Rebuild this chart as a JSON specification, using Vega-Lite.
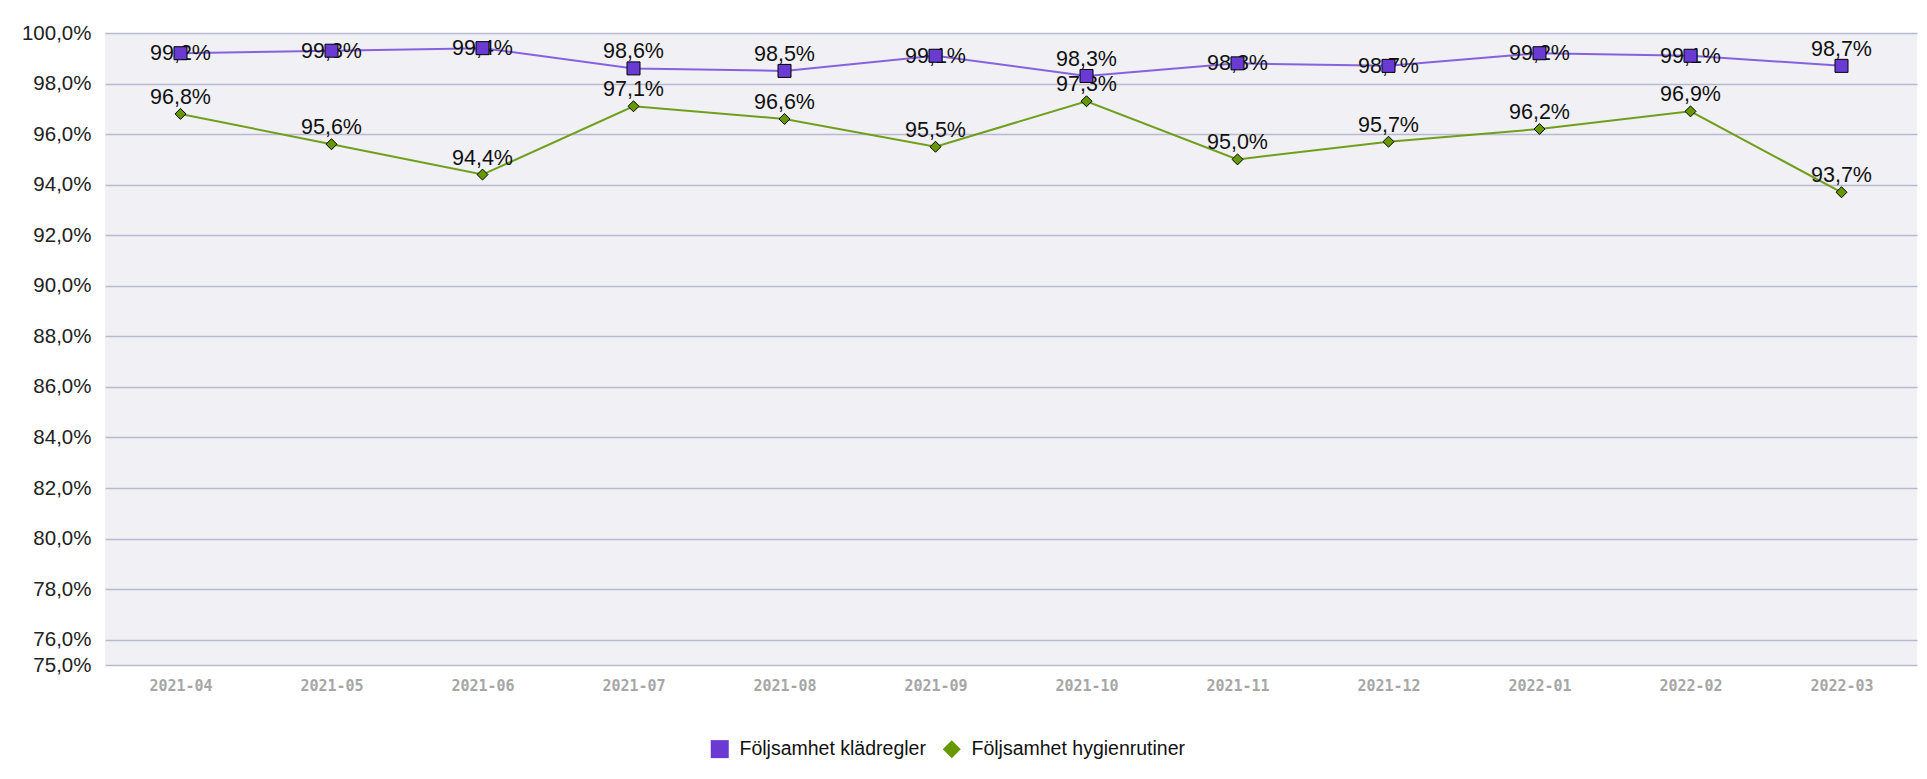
{
  "$schema": "https://vega.github.io/schema/vega-lite/v6.json",
  "width": 1812,
  "height": 632,
  "autosize": {"type": "pad"},
  "padding": {"left": 21, "top": 23, "right": 5, "bottom": 5},
  "background": "white",
  "config": {
    "locale": {"number": {"decimal": ",", "thousands": " ", "grouping": [3], "currency": ["", " kr"]}},
    "view": {"fill": "#f0f0f5", "stroke": null},
    "font": "Liberation Sans"
  },
  "data": {
    "values": [
      {"month": "2021-04", "series": "Följsamhet klädregler", "value": 0.992},
      {"month": "2021-05", "series": "Följsamhet klädregler", "value": 0.993},
      {"month": "2021-06", "series": "Följsamhet klädregler", "value": 0.994},
      {"month": "2021-07", "series": "Följsamhet klädregler", "value": 0.986},
      {"month": "2021-08", "series": "Följsamhet klädregler", "value": 0.985},
      {"month": "2021-09", "series": "Följsamhet klädregler", "value": 0.991},
      {"month": "2021-10", "series": "Följsamhet klädregler", "value": 0.983},
      {"month": "2021-11", "series": "Följsamhet klädregler", "value": 0.988},
      {"month": "2021-12", "series": "Följsamhet klädregler", "value": 0.987},
      {"month": "2022-01", "series": "Följsamhet klädregler", "value": 0.992},
      {"month": "2022-02", "series": "Följsamhet klädregler", "value": 0.991},
      {"month": "2022-03", "series": "Följsamhet klädregler", "value": 0.987},
      {"month": "2021-04", "series": "Följsamhet hygienrutiner", "value": 0.968},
      {"month": "2021-05", "series": "Följsamhet hygienrutiner", "value": 0.956},
      {"month": "2021-06", "series": "Följsamhet hygienrutiner", "value": 0.944},
      {"month": "2021-07", "series": "Följsamhet hygienrutiner", "value": 0.971},
      {"month": "2021-08", "series": "Följsamhet hygienrutiner", "value": 0.966},
      {"month": "2021-09", "series": "Följsamhet hygienrutiner", "value": 0.955},
      {"month": "2021-10", "series": "Följsamhet hygienrutiner", "value": 0.973},
      {"month": "2021-11", "series": "Följsamhet hygienrutiner", "value": 0.950},
      {"month": "2021-12", "series": "Följsamhet hygienrutiner", "value": 0.957},
      {"month": "2022-01", "series": "Följsamhet hygienrutiner", "value": 0.962},
      {"month": "2022-02", "series": "Följsamhet hygienrutiner", "value": 0.969},
      {"month": "2022-03", "series": "Följsamhet hygienrutiner", "value": 0.937}
    ]
  },
  "encoding": {
    "x": {
      "field": "month",
      "type": "ordinal",
      "scale": {"type": "point", "padding": 0.5},
      "axis": {
        "title": null,
        "domain": false,
        "ticks": false,
        "labelAngle": 0,
        "labelFont": "DejaVu Sans Mono",
        "labelFontSize": 15,
        "labelFontWeight": "bold",
        "labelColor": "#a6a6a6",
        "labelPadding": 13
      }
    },
    "y": {
      "field": "value",
      "type": "quantitative",
      "scale": {"domain": [0.75, 1.0], "nice": false, "zero": false},
      "axis": {
        "title": null,
        "values": [0.75, 0.76, 0.78, 0.80, 0.82, 0.84, 0.86, 0.88, 0.90, 0.92, 0.94, 0.96, 0.98, 1.0],
        "format": ".1%",
        "grid": true,
        "gridColor": "#b9b9d2",
        "gridWidth": 1.5,
        "domain": false,
        "ticks": false,
        "labelPadding": 14,
        "labelFontSize": 20.5,
        "labelColor": "#222222"
      }
    }
  },
  "layer": [
    {
      "transform": [{"filter": "datum.series === 'Följsamhet klädregler'"}],
      "mark": {"type": "line", "strokeWidth": 2, "color": "#8662de"}
    },
    {
      "transform": [{"filter": "datum.series === 'Följsamhet hygienrutiner'"}],
      "mark": {"type": "line", "strokeWidth": 2, "color": "#6f9f1c"}
    },
    {
      "transform": [{"filter": "datum.series === 'Följsamhet hygienrutiner' || indexof(['2021-07', '2021-08', '2021-10', '2022-03'], datum.month) >= 0"}],
      "mark": {"type": "text", "baseline": "alphabetic", "dy": -10, "fontSize": 21.5, "color": "#111111"},
      "encoding": {
        "text": {"field": "value", "type": "quantitative", "format": ".1%"}
      }
    },
    {
      "transform": [{"filter": "datum.series === 'Följsamhet klädregler' && indexof(['2021-07', '2021-08', '2021-10', '2022-03'], datum.month) < 0"}],
      "mark": {"type": "text", "baseline": "middle", "dy": 1, "fontSize": 21.5, "color": "#111111"},
      "encoding": {
        "text": {"field": "value", "type": "quantitative", "format": ".1%"}
      }
    },
    {
      "transform": [{"filter": "datum.series === 'Följsamhet klädregler'"}],
      "mark": {"type": "point", "filled": true, "opacity": 1, "size": 169, "stroke": "#000000", "strokeWidth": 1},
      "encoding": {
        "shape": {
          "field": "series",
          "type": "nominal",
          "scale": {"domain": ["Följsamhet klädregler", "Följsamhet hygienrutiner"], "range": ["square", "diamond"]}
        },
        "color": {
          "field": "series",
          "type": "nominal",
          "scale": {"domain": ["Följsamhet klädregler", "Följsamhet hygienrutiner"], "range": ["#6a3bd2", "#669900"]},
          "legend": {
            "title": null,
            "orient": "none",
            "legendX": 605,
            "legendY": 706,
            "direction": "horizontal",
            "symbolSize": 324,
            "symbolStrokeWidth": 0,
            "labelFontSize": 19.5,
            "labelColor": "#111111",
            "labelLimit": 500,
            "labelOffset": 10,
            "columnPadding": 16
          }
        }
      }
    },
    {
      "transform": [{"filter": "datum.series === 'Följsamhet hygienrutiner'"}],
      "mark": {"type": "point", "filled": true, "opacity": 1, "size": 120, "stroke": "#000000", "strokeWidth": 1},
      "encoding": {
        "shape": {"field": "series", "type": "nominal"},
        "color": {"field": "series", "type": "nominal"}
      }
    }
  ]
}
